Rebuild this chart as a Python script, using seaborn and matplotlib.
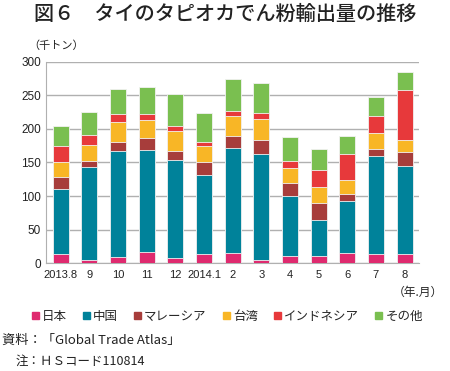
import matplotlib
matplotlib.use("Agg")
import matplotlib.pyplot as plt
import numpy as np
import pandas as pd
import seaborn as sns

months = ["2013.8", "9", "10", "11", "12", "2014.1", "2", "3", "4", "5", "6", "7", "8"]
japan = [14, 4, 9, 17, 8, 14, 15, 5, 10, 10, 15, 14, 14]
china = [97, 139, 158, 151, 145, 117, 157, 157, 90, 54, 77, 145, 131]
malaysia = [18, 9, 13, 19, 14, 19, 18, 22, 19, 25, 11, 11, 20]
taiwan = [21, 24, 31, 27, 30, 24, 30, 31, 23, 24, 21, 24, 19]
indonesia = [25, 15, 12, 8, 7, 6, 7, 9, 10, 26, 38, 26, 74]
other = [29, 34, 36, 41, 48, 44, 48, 44, 36, 31, 27, 28, 27]

series = ["日本", "中国", "マレーシア", "台湾", "インドネシア", "その他"]
colors = ["#df2a6f", "#00829a", "#a73d3b", "#f8b626", "#e7393b", "#7abf50"]

df = pd.DataFrame({"month": months, "日本": japan, "中国": china, "マレーシア": malaysia,
                   "台湾": taiwan, "インドネシア": indonesia, "その他": other})
cum = df[series].cumsum(axis=1)

sns.set_style("white")
plt.rcParams["font.family"] = ["Noto Sans CJK JP", "DejaVu Sans"]

fig = plt.figure(figsize=(4.5, 3.71), dpi=100)
ax = fig.add_axes([0.103, 0.291, 0.828, 0.542])

# draw cumulative totals from the top series down so each one covers the next
for name, color in zip(reversed(series), reversed(colors)):
    sns.barplot(x=df["month"], y=cum[name], color=color, width=0.56, ax=ax,
                edgecolor="#f2f2f2", linewidth=0.6, saturation=1, zorder=3)

ax.set_ylim(0, 300)
ax.set_yticks(range(0, 301, 50))
ax.set_xlim(-0.5, len(months) - 0.5)
ax.yaxis.grid(True, color="#b0b0b0", linewidth=1, zorder=0)
ax.set_axisbelow(True)
for side in ["top", "right"]:
    ax.spines[side].set_visible(False)
ax.spines["left"].set_color("#b0b0b0")
ax.spines["bottom"].set_color("#b0b0b0")
ax.set_xlabel("")
ax.set_ylabel("")
ax.set_xticks(np.arange(-0.5, len(months)), minor=True)
ax.tick_params(axis="x", which="minor", length=4, color="#b0b0b0", width=1)
ax.tick_params(axis="x", which="major", length=0, pad=5, labelsize=8,
               labelfontfamily="Liberation Sans", labelcolor="#222222")
ax.tick_params(axis="y", length=0, pad=4, labelsize=8.5,
               labelfontfamily="Liberation Sans", labelcolor="#222222")

fig.text(0.5, 0.962, "図６　タイのタピオカでん粉輸出量の推移", ha="center", va="center",
         fontsize=14.5, color="#222222", fontweight="medium")
fig.text(0.062, 0.878, "（千トン）", ha="left", va="center", fontsize=8, color="#222222")
fig.text(0.985, 0.212, "（年.月）", ha="right", va="center", fontsize=8.5, color="#222222")

handles = [plt.Rectangle((0, 0), 1, 1, color=c) for c in colors]
fig.legend(handles, series, loc="center", bbox_to_anchor=(0.505, 0.147), ncol=6,
           frameon=False, fontsize=9, handlelength=0.55, handleheight=0.55,
           handletextpad=0.25, columnspacing=1.3)

fig.text(0.005, 0.083, "資料：「Global Trade Atlas」", ha="left", va="center", fontsize=9.5, color="#222222")
fig.text(0.035, 0.025, "注：ＨＳコード110814", ha="left", va="center", fontsize=9, color="#222222")

fig.savefig("out.png", dpi=100)
